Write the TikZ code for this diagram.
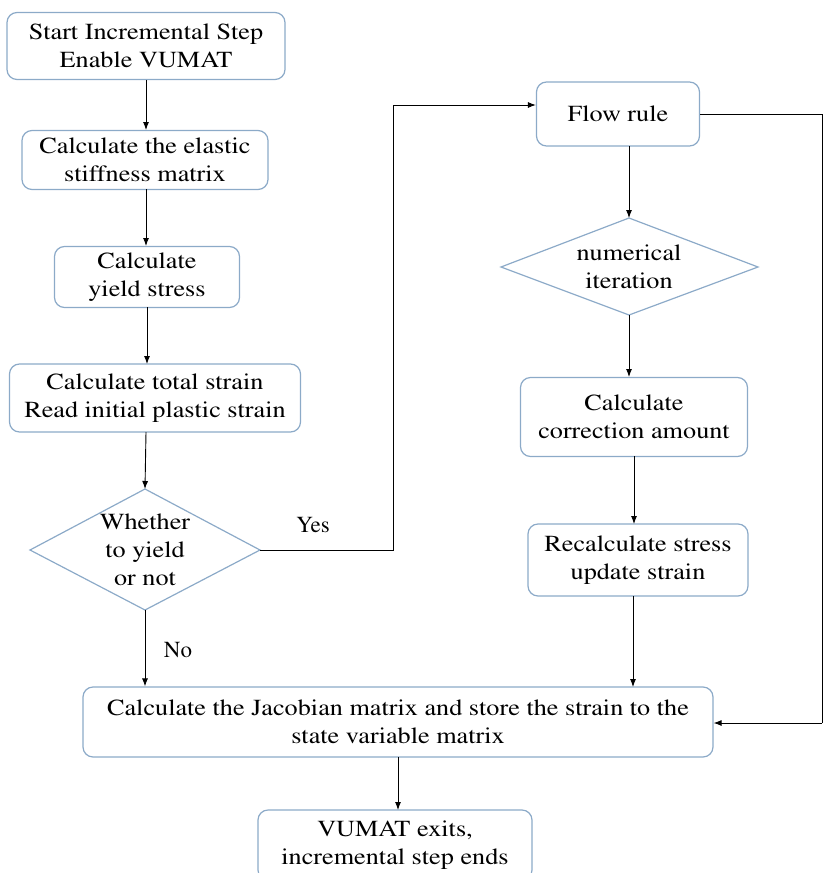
\documentclass[tikz,border=0pt]{standalone}
\usepackage[T1]{fontenc}
\usepackage{mathptmx}
\usepackage{graphicx}
\usetikzlibrary{shapes.geometric,arrows.meta}
\definecolor{boxline}{RGB}{140,170,200}
\newcommand{\sx}[1]{\scalebox{1.14}[1]{#1}}
\begin{document}
\begin{tikzpicture}[x=1pt,y=-1pt,
  txt/.style={font=\rmfamily\fontsize{23}{28}\selectfont, align=center, text=black},
  rbox/.style={txt, draw=boxline, line width=1.2pt, rounded corners=10pt, inner sep=0pt},
  arr/.style={-{Latex[length=8pt,width=6pt]}, line width=0.9pt, black},
  ln/.style={line width=0.9pt, black}]
\useasboundingbox (0,0) rectangle (823,873);
\node[rbox, minimum width=278pt, minimum height=67pt] (b1) at (146,46) {\sx{Start Incremental Step}\\\sx{Enable VUMAT}};
\node[rbox, minimum width=246pt, minimum height=59pt] (b2) at (145,160) {\sx{Calculate the elastic}\\\sx{stiffness matrix}};
\node[rbox, minimum width=185pt, minimum height=61pt] (b3) at (147,277) {\sx{Calculate}\\\sx{yield stress}};
\node[rbox, minimum width=291pt, minimum height=68pt] (b4) at (155,398) {\sx{Calculate total strain}\\\sx{Read initial plastic strain}};
\draw[boxline, line width=1.2pt] (30,550) -- (145,489) -- (260,550) -- (145,610) -- cycle;
\node[txt] (d1) at (145,550) {\sx{Whether}\\\sx{to yield}\\\sx{or not}};
\coordinate (d1r) at (260,550);
\coordinate (d1b) at (145,610);
\coordinate (d1t) at (145,489);
\node[rbox, minimum width=163pt, minimum height=64pt] (fr) at (618,114) {\sx{Flow rule}};
\draw[boxline, line width=1.2pt] (501,267) -- (629,218) -- (758,267) -- (629,315) -- cycle;
\node[txt] (d2) at (629,267) {\sx{numerical}\\\sx{iteration}};
\coordinate (d2t) at (629,218);
\coordinate (d2b) at (629,315);
\node[rbox, minimum width=227pt, minimum height=79pt] (cc) at (634,417) {\sx{Calculate}\\\sx{correction amount}};
\node[rbox, minimum width=220pt, minimum height=72pt] (rc) at (638,560) {\sx{Recalculate stress}\\\sx{update strain}};
\node[rbox, minimum width=630pt, minimum height=70pt] (jb) at (398,722) {\sx{Calculate the Jacobian matrix and store the strain to the}\\\sx{state variable matrix}};
\node[rbox, minimum width=274pt, minimum height=70pt] (ex) at (395,845) {\sx{VUMAT exits,}\\\sx{incremental step ends}};
\node[txt] (yes) at (313,525) {Yes};
\node[txt] (no) at (178,650) {No};
\coordinate (c1) at (393,550);
\coordinate (c2) at (393,105);
\coordinate (c3) at (822,114);
\coordinate (c4) at (822,723);
\draw[arr] (146,80) -- (146,130);
\draw[arr] (146,189) -- (146,246);
\draw[arr] (147,307) -- (147,364);
\draw[arr] (146,432) -- (d1t);
\draw[arr] (d1r) -- (c1) -- (c2) -- (fr.west |- c2);
\draw[arr] (d1b) -- (d1b |- jb.north);
\draw[arr] (629,146) -- (d2t);
\draw[arr] (d2b) -- (629,377);
\draw[arr] (634,456) -- (634,524);
\draw[arr] (633,596) -- (633,687);
\draw[ln] (fr.east) -- (c3) -- (c4);
\draw[arr] (c4) -- (jb.east |- c4);
\draw[arr] (398,757) -- (398,810);
\end{tikzpicture}
\end{document}
